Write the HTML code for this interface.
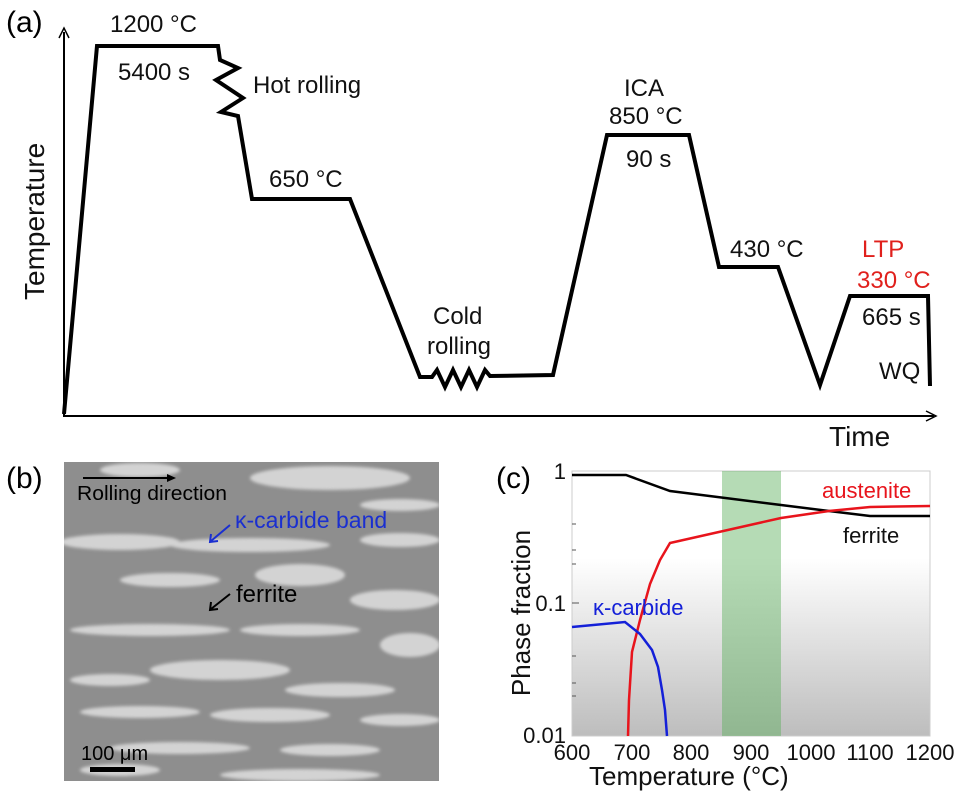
<!DOCTYPE html>
<html><head><meta charset="utf-8"><style>
body{margin:0;background:#fff;width:959px;height:795px;overflow:hidden}
svg text{font-family:"Liberation Sans",Arial,sans-serif}
</style></head><body>
<svg width="959" height="795" viewBox="0 0 959 795" xmlns="http://www.w3.org/2000/svg">
<defs>
<linearGradient id="bg" x1="0" y1="0" x2="0" y2="1">
<stop offset="0" stop-color="#fff"/><stop offset="0.33" stop-color="#fff"/><stop offset="1" stop-color="#bdbdbd"/>
</linearGradient>
<filter id="bl"><feGaussianBlur stdDeviation="1.5"/></filter>
<clipPath id="cb"><rect x="64" y="462" width="375" height="319"/></clipPath>
</defs>
<!-- panel a -->
<text x="6" y="32" font-size="30">(a)</text>
<line x1="64" y1="416" x2="64" y2="32" stroke="#000" stroke-width="2"/>
<path d="M59,38 L64,28 L69,38" fill="none" stroke="#000" stroke-width="1.5"/>
<line x1="63" y1="416" x2="934" y2="416" stroke="#000" stroke-width="2"/>
<path d="M926,411 L936,416 L926,421" fill="none" stroke="#000" stroke-width="1.5"/>
<path d="M64,414 L97,46 L218,46 L220,60 L238,68 L216,80 L243,98 L221,112 L238,116 L252,199 L350,199 L420,377 L432,377 L437,370 L445,387 L453,370 L461,387 L469,370 L477,387 L485,370 L490,376 L553,375 L607,135 L689,135 L719,267 L778,267 L820,385 L850,296 L928,296 L930,386" fill="none" stroke="#000" stroke-width="4" stroke-linejoin="miter"/>
<g font-size="24" fill="#111">
<text x="110" y="32">1200 °C</text>
<text x="118" y="80">5400 s</text>
<text x="253" y="93">Hot rolling</text>
<text x="269" y="187">650 °C</text>
<text x="433" y="324">Cold</text>
<text x="427" y="354">rolling</text>
<text x="624" y="96">ICA</text>
<text x="609" y="124">850 °C</text>
<text x="626" y="167">90 s</text>
<text x="730" y="257">430 °C</text>
<text x="862" y="257" fill="#e0201c">LTP</text>
<text x="857" y="288" fill="#e0201c">330 °C</text>
<text x="862" y="325">665 s</text>
<text x="879" y="379">WQ</text>
<text x="829" y="446" font-size="28">Time</text>
<text transform="translate(44,300) rotate(-90)" font-size="28">Temperature</text>
</g>
<!-- panel b -->
<text x="6" y="488" font-size="30">(b)</text>
<rect x="64" y="462" width="375" height="319" fill="#8e8e8e"/>
<g clip-path="url(#cb)" fill="#e0e0e0" filter="url(#bl)" opacity="0.85">
<ellipse cx="330" cy="478" rx="80" ry="12"/>
<ellipse cx="140" cy="470" rx="40" ry="7"/>
<ellipse cx="400" cy="505" rx="40" ry="6"/>
<ellipse cx="120" cy="542" rx="60" ry="8"/>
<ellipse cx="250" cy="545" rx="80" ry="7"/>
<ellipse cx="400" cy="540" rx="40" ry="7"/>
<ellipse cx="170" cy="580" rx="50" ry="7"/>
<ellipse cx="300" cy="575" rx="45" ry="11"/>
<ellipse cx="395" cy="600" rx="45" ry="10"/>
<ellipse cx="150" cy="630" rx="80" ry="6"/>
<ellipse cx="300" cy="630" rx="60" ry="6"/>
<ellipse cx="410" cy="645" rx="30" ry="12"/>
<ellipse cx="220" cy="670" rx="70" ry="10"/>
<ellipse cx="110" cy="680" rx="40" ry="6"/>
<ellipse cx="340" cy="690" rx="55" ry="7"/>
<ellipse cx="140" cy="712" rx="60" ry="6"/>
<ellipse cx="270" cy="715" rx="60" ry="7"/>
<ellipse cx="400" cy="720" rx="40" ry="6"/>
<ellipse cx="180" cy="748" rx="70" ry="6"/>
<ellipse cx="330" cy="750" rx="50" ry="6"/>
<ellipse cx="120" cy="770" rx="40" ry="6"/>
<ellipse cx="300" cy="775" rx="80" ry="6"/>
</g>
<line x1="83" y1="478" x2="170" y2="478" stroke="#000" stroke-width="2"/>
<path d="M167,474 L176,478 L167,482 Z" fill="#000"/>
<text x="77" y="500" font-size="20" fill="#000" textLength="150" lengthAdjust="spacingAndGlyphs">Rolling direction</text>
<text x="235" y="528" font-size="23" fill="#1a2fd0">κ-carbide band</text>
<path d="M230,525 L211,541 M211,534 L210,542 L218,541" stroke="#1a2fd0" stroke-width="2" fill="none"/>
<text x="236" y="602" font-size="24" fill="#000">ferrite</text>
<path d="M230,594 L211,609 M211,602 L210,610 L218,609" stroke="#000" stroke-width="2" fill="none"/>
<text x="81" y="760" font-size="20" fill="#000">100 μm</text>
<rect x="90" y="767" width="45" height="5" fill="#000"/>
<!-- panel c -->
<text x="496" y="488" font-size="30">(c)</text>
<rect x="572" y="471" width="358" height="265" fill="url(#bg)" stroke="#ccc"/>
<rect x="722" y="471" width="59" height="265" fill="#5aaf5a" opacity="0.45"/>
<g stroke="#555" stroke-width="1">
<line x1="572" y1="603" x2="579" y2="603"/><line x1="572" y1="524" x2="576" y2="524"/><line x1="572" y1="550" x2="576" y2="550"/><line x1="572" y1="564" x2="576" y2="564"/>
<line x1="572" y1="656" x2="576" y2="656"/><line x1="572" y1="683" x2="576" y2="683"/><line x1="572" y1="696" x2="576" y2="696"/>
</g>
<polyline points="572,475 626,475 670,491 781,505 829,511 870,516 930,516" fill="none" stroke="#000" stroke-width="2.5"/>
<polyline points="628,736 629,700 632,652 640,620 650,584 660,560 670,543 781,518 829,511 870,507 930,506" fill="none" stroke="#e8141c" stroke-width="2.5"/>
<polyline points="572,627 625,622 640,634 652,650 658,667 662,690 665,710 667,736" fill="none" stroke="#1420d8" stroke-width="2.5"/>
<g font-size="22" fill="#111">
<text x="566" y="479" text-anchor="end">1</text>
<text x="566" y="611" text-anchor="end">0.1</text>
<text x="566" y="743" text-anchor="end">0.01</text>
<text x="572" y="760" text-anchor="middle">600</text>
<text x="632" y="760" text-anchor="middle">700</text>
<text x="691" y="760" text-anchor="middle">800</text>
<text x="751" y="760" text-anchor="middle">900</text>
<text x="811" y="760" text-anchor="middle">1000</text>
<text x="870" y="760" text-anchor="middle">1100</text>
<text x="930" y="760" text-anchor="middle">1200</text>
<text x="589" y="785" font-size="26">Temperature (°C)</text>
<text transform="translate(530,613) rotate(-90)" text-anchor="middle" font-size="26">Phase fraction</text>
<text x="822" y="498" fill="#e8141c">austenite</text>
<text x="843" y="543">ferrite</text>
<text x="593" y="615" fill="#1420d8">κ-carbide</text>
</g>
</svg>
</body></html>
